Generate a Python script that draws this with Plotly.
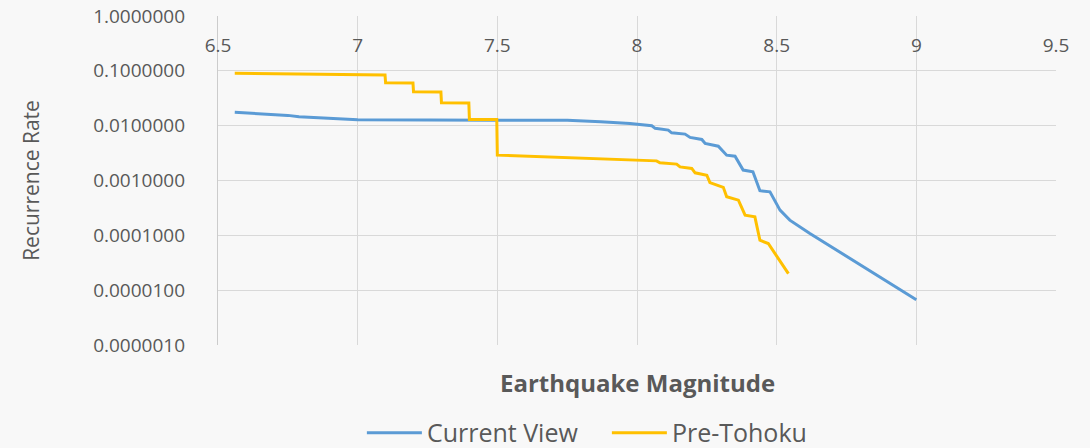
import plotly.graph_objects as go

# Current View
mag_current = [6.56, 6.67, 6.75, 6.79, 6.87, 6.94, 7.0, 7.5, 7.75, 7.87, 7.94, 7.975,
               8.053, 8.065, 8.112, 8.124, 8.172, 8.19, 8.232, 8.244, 8.291, 8.321,
               8.351, 8.38, 8.415, 8.44, 8.476, 8.512, 8.547, 8.619, 9.0]
rate_current = [0.0175, 0.0163, 0.0154, 0.0145, 0.0137, 0.0130, 0.0128, 0.0126, 0.0126,
                0.0118, 0.0113, 0.0110, 0.00995, 0.00893, 0.0083, 0.00741, 0.00702,
                0.00611, 0.00561, 0.00474, 0.00423, 0.0029, 0.00278, 0.00155, 0.00144,
                0.000652, 0.000621, 0.000288, 0.000189, 0.000108, 0.0000067]

# Pre-Tohoku
mag_pre = [6.56, 7.098, 7.1, 7.198, 7.2, 7.298, 7.3, 7.398, 7.4, 7.498, 7.5, 7.975,
           8.07, 8.082, 8.142, 8.154, 8.196, 8.208, 8.25, 8.261, 8.309, 8.321, 8.363,
           8.387, 8.422, 8.44, 8.47, 8.542]
rate_pre = [0.0899, 0.0838, 0.0606, 0.0600, 0.0415, 0.0410, 0.0261, 0.0258, 0.0130,
            0.0129, 0.0029, 0.00242, 0.00228, 0.0021, 0.00199, 0.00177, 0.00166,
            0.00138, 0.00125, 0.000914, 0.00075, 0.000507, 0.000438, 0.000233,
            0.000217, 0.0000814, 0.000071, 0.000020]

x_ticks = [6.5, 7, 7.5, 8, 8.5, 9, 9.5]
y_ticks = [1e-6, 1e-5, 1e-4, 1e-3, 1e-2, 1e-1, 1]
y_labels = [f"{v:.7f}" for v in y_ticks]

FONT = "Open Sans"
TXT = "#595959"
GRID = "#d9d9d9"
BG = "#f8f8f8"

fig = go.Figure()
fig.add_trace(go.Scatter(x=mag_current, y=rate_current, mode="lines", name="Current View",
                         line=dict(color="#5B9BD5", width=3)))
fig.add_trace(go.Scatter(x=mag_pre, y=rate_pre, mode="lines", name="Pre-Tohoku",
                         line=dict(color="#FFC000", width=3)))

fig.update_layout(
    width=1090, height=448,
    margin=dict(l=218, r=34, t=16, b=103, autoexpand=False),
    paper_bgcolor=BG, plot_bgcolor=BG,
    font=dict(family=FONT, color=TXT, size=18),
    showlegend=True,
    legend=dict(orientation="h", xref="container", yref="container",
                x=0.332, xanchor="left", y=0.0335, yanchor="middle", itemwidth=55,
                font=dict(size=25, color=TXT), entrywidth=175, bgcolor="rgba(0,0,0,0)"),
    xaxis=dict(range=[6.5, 9.5], tickvals=x_ticks, showgrid=True, gridcolor=GRID, gridwidth=1.3,
               zeroline=False, showline=False, anchor="free", position=0.952, side="bottom",
               ticks="", automargin=False, tickfont=dict(size=19, color=TXT)),
    yaxis=dict(type="log", range=[-6, 0], tickvals=y_ticks, ticktext=y_labels,
               showgrid=True, gridcolor=GRID, gridwidth=1.3, zeroline=False,
               showline=True, linecolor="#cccccc", linewidth=1.3, ticks="", automargin=False,
               ticklabelstandoff=28, tickfont=dict(size=19, color=TXT),
               title=dict(text="Recurrence Rate", standoff=47, font=dict(size=21, color=TXT))),
    annotations=[dict(text="<b>Earthquake Magnitude</b>", xref="paper", yref="paper",
                      x=0.5, y=-0.1155, xanchor="center", yanchor="middle", showarrow=False,
                      font=dict(size=24, color=TXT, family=FONT))],
)

fig.write_html("out.html", config={"displayModeBar": False},
               post_script="document.body.style.margin='0';document.body.style.background='%s';" % BG)
